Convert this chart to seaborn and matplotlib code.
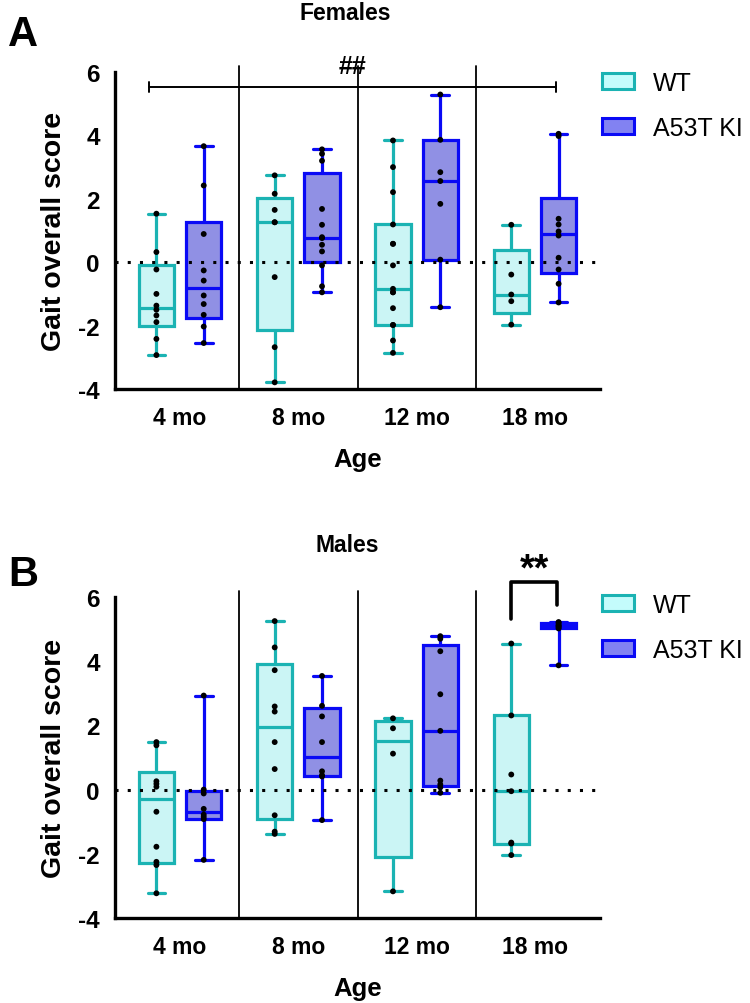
import numpy as np
import pandas as pd
import matplotlib
matplotlib.use("Agg")
import matplotlib as mpl
import matplotlib.pyplot as plt
from matplotlib.patches import Patch
import seaborn as sns

# ---------------- data ----------------
ages = ["4 mo", "8 mo", "12 mo", "18 mo"]
genotypes = ["WT", "A53T KI"]

fem_wt_4 = [1.53, 0.32, -0.23, -1.0, -1.37, -1.5, -1.68, -1.89, -2.42, -2.93]
fem_wt_8 = [2.74, 2.16, 1.65, 1.26, 1.26, -0.47, -2.68, -3.79]
fem_wt_12 = [3.84, 3.0, 2.21, 1.19, 0.58, 0.58, -0.1, -0.84, -0.95, -0.95, -1.45, -1.98, -1.98, -2.47, -2.86]
fem_wt_18 = [1.18, -0.39, -1.02, -1.23, -1.97]
fem_ki_4 = [3.66, 2.42, 0.89, -0.26, -0.58, -1.05, -1.32, -1.66, -2.03, -2.55]
fem_ki_8 = [3.56, 3.42, 3.2, 1.68, 1.18, 0.79, 0.76, 0.55, 0.34, -0.1, -0.76, -0.95]
fem_ki_12 = [5.29, 3.86, 2.84, 2.56, 1.84, 0.08, -1.42]
fem_ki_18 = [4.05, 3.98, 1.37, 1.19, 0.97, 0.84, 0.14, -0.23, -0.68, -1.27]

mal_wt_4 = [1.48, 1.38, 0.26, 0.18, 0.09, -0.69, -1.78, -2.25, -2.35, -3.23]
mal_wt_8 = [5.25, 4.43, 3.72, 2.59, 2.43, 1.48, 0.64, -0.8, -1.31, -1.38]
mal_wt_12 = [2.22, 1.91, 1.12, -3.17]
mal_wt_18 = [4.55, 2.31, 0.47, -0.05, -1.65, -1.68, -2.04]
mal_ki_4 = [2.93, 0.0, -0.12, -0.6, -0.78, -0.85, -0.92, -2.19]
mal_ki_8 = [3.54, 2.61, 2.28, 1.48, 0.57, 0.45, 0.41, -0.95]
mal_ki_12 = [4.78, 4.7, 4.31, 2.97, 1.83, 0.28, 0.16, 0.07, -0.1]
mal_ki_18 = [5.22, 5.2, 5.15, 5.1, 5.1, 5.05, 5.02, 3.87]

panel_titles = ["Females", "Males"]
panel_letters = ["A", "B"]
y_ticks = [-4, -2, 0, 2, 4, 6]


def build(wt, ki):
    rows = []
    for age, vals in zip(ages, wt):
        rows += [(age, "WT", v) for v in vals]
    for age, vals in zip(ages, ki):
        rows += [(age, "A53T KI", v) for v in vals]
    return pd.DataFrame(rows, columns=["Age", "Genotype", "Score"])


df_f = build([fem_wt_4, fem_wt_8, fem_wt_12, fem_wt_18], [fem_ki_4, fem_ki_8, fem_ki_12, fem_ki_18])
df_m = build([mal_wt_4, mal_wt_8, mal_wt_12, mal_wt_18], [mal_ki_4, mal_ki_8, mal_ki_12, mal_ki_18])

# Prism-style quartiles (weibull) for the boxes
_orig_stats = mpl.cbook.boxplot_stats


def _prism_stats(X, *args, **kwargs):
    res = _orig_stats(X, *args, **kwargs)
    try:
        arr0 = np.asarray(X, dtype=float)
        datasets = [arr0.ravel()] if arr0.ndim == 1 else list(arr0.T)
    except ValueError:
        datasets = [np.asarray(x, dtype=float).ravel() for x in X]
    if len(datasets) != len(res):
        datasets = [np.asarray(x, dtype=float).ravel() for x in X]
    for st, arr in zip(res, datasets):
        arr = arr[np.isfinite(arr)]
        if arr.size > 0:
            q1, med, q3 = np.percentile(arr, [25, 50, 75], method="weibull")
            st.update(q1=q1, med=med, q3=q3)
    return res


mpl.cbook.boxplot_stats = _prism_stats

# ---------------- style ----------------
sns.set_style("white")
plt.rcParams["font.family"] = ["Liberation Sans", "DejaVu Sans"]
plt.rcParams["font.weight"] = "bold"
for k in ["text.color", "axes.labelcolor", "xtick.color", "ytick.color"]:
    plt.rcParams[k] = "black"

face = {"WT": "#C4FCFC", "A53T KI": "#8282F2"}
edge = {"WT": "#1BB3B3", "A53T KI": "#0A0AF5"}

fig = plt.figure(figsize=(7.5, 10.04), dpi=100)
ax_a = fig.add_axes([115 / 750, 1 - 390 / 1004, 485 / 750, 317 / 1004])
ax_b = fig.add_axes([115 / 750, 1 - 919 / 1004, 485 / 750, 321 / 1004])


def draw(ax, df, leg_top):
    for g in genotypes:
        sub = df[df["Genotype"] == g]
        sns.boxplot(data=sub, x="Age", y="Score", hue="Genotype", order=ages,
                    hue_order=genotypes, dodge=True, width=0.8, gap=0.25,
                    whis=(0, 100), fliersize=0, palette=face, linecolor=edge[g],
                    linewidth=2.3, legend=False, ax=ax)
    sns.stripplot(data=df, x="Age", y="Score", hue="Genotype", order=ages,
                  hue_order=genotypes, dodge=True, jitter=False, size=4.2,
                  palette={"WT": "black", "A53T KI": "black"}, legend=False,
                  ax=ax, zorder=5)
    ax.axhline(0, color="black", ls=(0, (1, 3)), lw=2.2, zorder=4)
    for xv in [0.5, 1.5, 2.5]:
        ax.plot([xv, xv], [-4, 6.2], color="black", lw=1.3, clip_on=False, zorder=1)
    ax.set_xlim(-0.55, 3.55)
    ax.set_ylim(-4, 6)
    ax.set_yticks(y_ticks)
    ax.set_yticklabels([str(t) for t in y_ticks], fontsize=17.5, fontweight="bold")
    ax.set_xticks(range(len(ages)))
    ax.set_xticklabels(ages, fontsize=16.5, fontweight="bold")
    ax.tick_params(axis="y", length=8, width=2, pad=3)
    ax.tick_params(axis="x", length=8.5, width=2, pad=4)
    for s in ["top", "right"]:
        ax.spines[s].set_visible(False)
    for s in ["left", "bottom"]:
        ax.spines[s].set_linewidth(2.4)
        ax.spines[s].set_color("black")
    ax.set_xlabel("Age", fontsize=18.5, fontweight="bold", labelpad=13)
    ax.set_ylabel("Gait overall score", fontsize=20.5, fontweight="bold", labelpad=8)
    handles = [Patch(facecolor=face[g], edgecolor=edge[g], linewidth=2.2, label=g) for g in genotypes]
    ax.legend(handles=handles, loc="upper left", bbox_to_anchor=(1.004, leg_top), frameon=False,
              prop={"size": 18, "weight": "normal"}, handlelength=1.3, handleheight=0.6,
              labelspacing=0.82, handletextpad=0.75, borderaxespad=0.0, borderpad=0.0)


draw(ax_a, df_f, 1.003)
draw(ax_b, df_m, 1.012)

# panel A significance bar
ax_a.plot([-0.26, 3.18], [5.53, 5.53], color="black", lw=1.4, clip_on=False, zorder=6)
for xv in [-0.26, 3.18]:
    ax_a.plot([xv, xv], [5.38, 5.68], color="black", lw=1.4, clip_on=False, zorder=6)
ax_a.text(1.46, 5.8, "##", ha="center", va="bottom", fontsize=18, fontweight="bold")

# panel B bracket
ax_b.plot([2.8, 2.8, 3.19, 3.19], [5.33, 6.47, 6.47, 5.74], color="black", lw=2.6,
          clip_on=False, zorder=6)
ax_b.text(2.995, 6.3, "**", ha="center", va="bottom", fontsize=27, fontweight="bold")

fig.text(345 / 750, 1 - 13 / 1004, panel_titles[0], ha="center", va="center", fontsize=16.5, fontweight="bold")
fig.text(347 / 750, 1 - 546 / 1004, panel_titles[1], ha="center", va="center", fontsize=16.5, fontweight="bold")
fig.text(8 / 750, 1 - 35 / 1004, panel_letters[0], ha="left", va="center", fontsize=30, fontweight="bold")
fig.text(8 / 750, 1 - 575 / 1004, panel_letters[1], ha="left", va="center", fontsize=30, fontweight="bold")

fig.savefig("out.png", dpi=100)
